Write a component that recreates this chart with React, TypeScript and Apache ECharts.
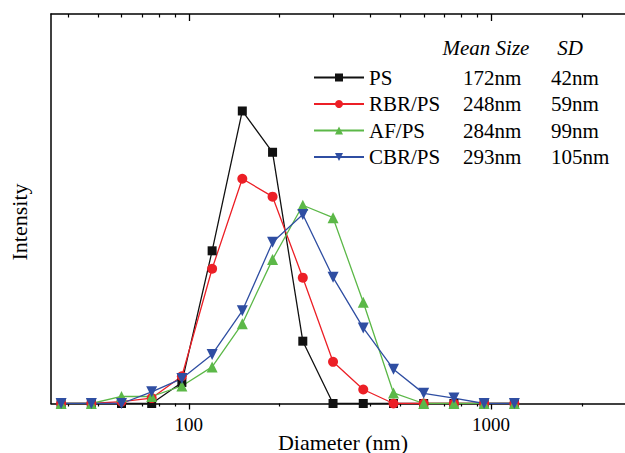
import React, { useEffect, useRef } from 'react';
import * as echarts from 'echarts';

const diameters = [37.8, 47.6, 59.9, 75.4, 94.9, 119.5, 150.4, 189.4, 238.5, 300.3, 378.1, 476.0, 599.3, 754.5, 949.9, 1196];
const psValues = [0, 0, 0, 0, 5.4, 39.2, 75.1, 64.5, 16.0, 0, 0, 0, 0, 0, 0, 0];
const rbrValues = [0, 0, 0.5, 1.4, 7.0, 34.6, 57.7, 53.1, 32.3, 10.7, 3.6, 0, 0, 0, 0, 0];
const afValues = [0, 0, 1.8, 1.8, 4.5, 9.4, 20.5, 37.0, 50.9, 47.7, 26.0, 2.7, 0, 0, 0, 0];
const cbrValues = [0, 0, 0, 3.0, 6.4, 12.6, 23.8, 41.4, 48.5, 32.4, 19.4, 8.8, 2.6, 1.4, 0, 0];

const seriesNames = ['PS', 'RBR/PS', 'AF/PS', 'CBR/PS'];
const meanSizes = ['172nm', '248nm', '284nm', '293nm'];
const sdValues = ['42nm', '59nm', '99nm', '105nm'];
const majorTicks = [100, 1000];
const minorTicks = [40, 50, 60, 70, 80, 90, 200, 300, 400, 500, 600, 700, 800, 900, 2000];

const FONT = '"Liberation Serif", "Times New Roman", serif';

export default function App() {
  const ref = useRef<HTMLDivElement>(null);
  useEffect(() => {
    if (!ref.current) return;
    const chart = echarts.init(ref.current, undefined, { renderer: 'svg' });
    const axisBase = {
      type: 'log' as const,
      min: 35,
      max: 2779,
      gridIndex: 0,
      splitLine: { show: false },
      minorTick: { show: false },
    };
    const mk = (vals: number[]) => diameters.map((d, i) => [d, vals[i]]);
    const lineSeries = (name: string, vals: number[], color: string, symbol: string, size: number, rotate = 0) => ({
      type: 'line',
      name,
      data: mk(vals),
      xAxisIndex: 0,
      yAxisIndex: 0,
      symbol,
      symbolSize: size,
      symbolRotate: rotate,
      showAllSymbol: true,
      lineStyle: { color, width: 1.3 },
      itemStyle: { color },
      emphasis: { disabled: true },
    });
    const txt = (text: string, x: number, y: number, italic: boolean, size: number, rotation = 0) => ({
      type: 'text',
      x,
      y,
      rotation,
      style: {
        text,
        align: 'center',
        verticalAlign: 'middle',
        fill: '#000',
        fontFamily: FONT,
        fontSize: size,
        fontStyle: italic ? 'italic' : 'normal',
      },
    });
    chart.setOption({
      animation: false,
      backgroundColor: '#ffffff',
      grid: { left: 51, right: 0, top: 14, bottom: 49.5, containLabel: false, outerBoundsMode: 'none' },
      xAxis: [
        {
          ...axisBase,
          position: 'bottom',
          axisLine: { show: true, onZero: false, lineStyle: { color: '#000', width: 1.5 } },
          axisTick: { show: true, inside: false, length: 6, lineStyle: { color: '#000', width: 1.3 }, customValues: majorTicks },
          axisLabel: {
            show: true,
            customValues: majorTicks,
            margin: 11,
            color: '#000',
            fontSize: 19,
            fontFamily: FONT,
            formatter: (v: number) => String(Math.round(v)),
          },
        },
        {
          ...axisBase,
          position: 'bottom',
          axisLine: { show: false, onZero: false },
          axisTick: { show: true, inside: false, length: 3, lineStyle: { color: '#000', width: 1.2 }, customValues: minorTicks },
          axisLabel: { show: false },
        },
        {
          ...axisBase,
          position: 'top',
          axisLine: { show: true, onZero: false, lineStyle: { color: '#000', width: 1.5 } },
          axisTick: { show: true, inside: true, length: 7, lineStyle: { color: '#000', width: 1.3 }, customValues: majorTicks },
          axisLabel: { show: false },
        },
        {
          ...axisBase,
          position: 'top',
          axisLine: { show: false, onZero: false },
          axisTick: { show: true, inside: true, length: 3.5, lineStyle: { color: '#000', width: 1.2 }, customValues: minorTicks },
          axisLabel: { show: false },
        },
      ],
      yAxis: {
        type: 'value',
        min: 0,
        max: 100,
        axisLine: { show: true, onZero: false, lineStyle: { color: '#000', width: 1.5 } },
        axisTick: { show: false },
        axisLabel: { show: false },
        splitLine: { show: false },
      },
      legend: {
        orient: 'vertical',
        left: 308,
        top: 62,
        itemWidth: 50,
        itemHeight: 10,
        itemGap: 5.5,
        selectedMode: false,
        data: seriesNames,
        formatter: (name: string) => {
          const i = seriesNames.indexOf(name);
          return `{n|${name}}{m|${meanSizes[i]}}{s|${sdValues[i]}}`;
        },
        textStyle: {
          color: '#000',
          fontSize: 21,
          fontFamily: FONT,
          rich: {
            n: { width: 94, fontSize: 21, fontFamily: FONT, color: '#000' },
            m: { width: 88, fontSize: 21, fontFamily: FONT, color: '#000' },
            s: { fontSize: 21, fontFamily: FONT, color: '#000' },
          },
        },
      },
      graphic: [
        txt('Mean Size', 486, 48, true, 21),
        txt('SD', 570, 48, true, 21),
        txt('Intensity', 19, 222, false, 22, Math.PI / 2),
        txt('Diameter (nm)', 343, 442, false, 22),
      ],
      series: [
        lineSeries('PS', psValues, '#111111', 'rect', 9),
        lineSeries('RBR/PS', rbrValues, '#ec1f26', 'circle', 10),
        lineSeries('AF/PS', afValues, '#5cb848', 'triangle', 11),
        lineSeries('CBR/PS', cbrValues, '#2f4ea2', 'triangle', 11, 180),
      ],
    });
    return () => chart.dispose();
  }, []);
  return <div ref={ref} style={{ position: 'fixed', left: 0, top: 0, width: 625, height: 453 }} />;
}
